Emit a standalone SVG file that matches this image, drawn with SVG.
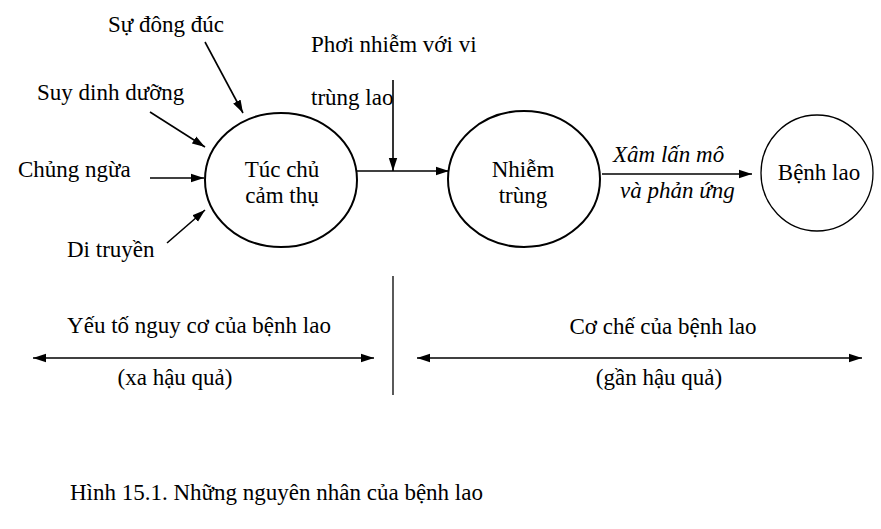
<svg xmlns="http://www.w3.org/2000/svg" width="881" height="529" viewBox="0 0 881 529">
<defs>
<style>
text{font-family:'Liberation Serif','Times New Roman','DejaVu Serif',serif;font-size:23px;fill:#000}
.it{font-style:italic}
.m{text-anchor:middle}
.node{fill:#fff;stroke:#000;stroke-width:2}
.line{stroke:#000;stroke-width:1.6;fill:none}
</style>
<marker id="ah" markerUnits="userSpaceOnUse" markerWidth="14" markerHeight="10" refX="13" refY="5" orient="auto-start-reverse">
<path d="M0,0.8 L13,5 L0,9.2 Z" fill="#000"/>
</marker>
</defs>
<rect width="881" height="529" fill="#fff"/>
<g id="connectors">
<line class="line" x1="205" y1="42" x2="243" y2="113" marker-end="url(#ah)"/>
<line class="line" x1="150" y1="112" x2="205" y2="147" marker-end="url(#ah)"/>
<line class="line" x1="150" y1="178" x2="204" y2="178" marker-end="url(#ah)"/>
<line class="line" x1="167" y1="243" x2="205" y2="210" marker-end="url(#ah)"/>
<line class="line" x1="357" y1="171" x2="449" y2="171" marker-end="url(#ah)"/>
<line class="line" x1="393" y1="80" x2="393" y2="171" marker-end="url(#ah)"/>
<line class="line" x1="602" y1="174" x2="752" y2="174" marker-end="url(#ah)"/>
<line class="line" x1="33" y1="358" x2="374" y2="358" marker-start="url(#ah)" marker-end="url(#ah)"/>
<line class="line" x1="417" y1="358" x2="862" y2="358" marker-start="url(#ah)" marker-end="url(#ah)"/>
<line stroke="#000" stroke-width="1.3" x1="393" y1="276" x2="393" y2="395"/>
</g>
<g id="factors">
<text x="108" y="32">Sự đông đúc</text>
<text x="37" y="100">Suy dinh dưỡng</text>
<text x="18" y="177">Chủng ngừa</text>
<text x="67" y="257">Di truyền</text>
<text x="311" y="52">Phơi nhiễm với vi</text>
<text x="311" y="105">trùng lao</text>
</g>
<g id="host">
<ellipse class="node" cx="281" cy="180" rx="76" ry="67"/>
<text class="m" x="282" y="177">Túc chủ</text>
<text class="m" x="282" y="203">cảm thụ</text>
</g>
<g id="infection">
<ellipse class="node" cx="524" cy="179" rx="76" ry="68"/>
<text class="m" x="523" y="177">Nhiễm</text>
<text class="m" x="523" y="203">trùng</text>
</g>
<g id="edge-label">
<text class="it" x="613" y="162">Xâm lấn mô</text>
<text class="it" x="620" y="198">và phản ứng</text>
</g>
<g id="disease">
<ellipse class="node" cx="817" cy="173" rx="56" ry="58" style="stroke-width:1.3"/>
<text class="m" x="819" y="180">Bệnh lao</text>
</g>
<g id="bottom">
<text class="m" x="199" y="333">Yếu tố nguy cơ của bệnh lao</text>
<text class="m" x="175" y="385">(xa hậu quả)</text>
<text class="m" x="663" y="334">Cơ chế của bệnh lao</text>
<text class="m" x="659" y="385">(gần hậu quả)</text>
<text x="70" y="500">Hình 15.1. Những nguyên nhân của bệnh lao</text>
</g>
</svg>
